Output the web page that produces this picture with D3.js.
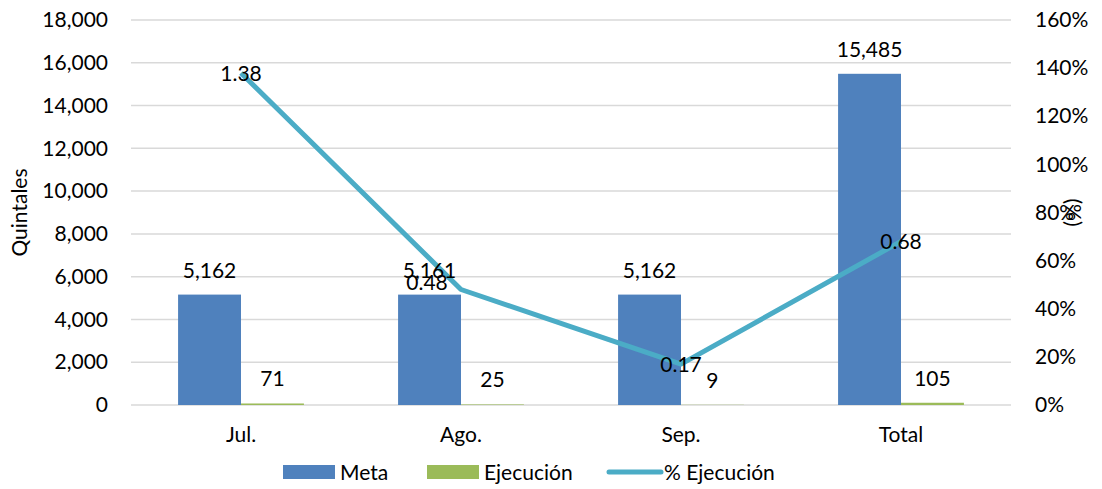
<!DOCTYPE html>
<html lang="es">
<head>
<meta charset="utf-8">
<title>Meta vs Ejecución</title>
<style>
  body { margin: 0; background: #fff; }
  svg text { font-family: Lato, "Open Sans", sans-serif; font-size: 21px; fill: #000; }
  .grid line { stroke: #d9d9d9; stroke-width: 1.5px; }
  .axis path, .axis line { display: none; }
</style>
</head>
<body>
<script src="https://cdnjs.cloudflare.com/ajax/libs/d3/7.8.5/d3.min.js"></script>
<script>
var categories = ["Jul.", "Ago.", "Sep.", "Total"];
var meta = [5162, 5161, 5162, 15485];
var ejecucion = [71, 25, 9, 105];
var pctEjecucion = [1.38, 0.48, 0.17, 0.68];
var leftTicks = [0, 2000, 4000, 6000, 8000, 10000, 12000, 14000, 16000, 18000];
var rightTicks = [0, 0.2, 0.4, 0.6, 0.8, 1.0, 1.2, 1.4, 1.6];

var W = 1102, H = 489;
var margin = { top: 20, right: 91, bottom: 84, left: 131 };
var width = W - margin.left - margin.right;
var height = H - margin.top - margin.bottom;

var svg = d3.select("body").append("svg")
  .attr("width", W).attr("height", H);
var g = svg.append("g")
  .attr("transform", "translate(" + margin.left + "," + margin.top + ")");

var x = d3.scaleBand().domain(categories).range([0, width]);
var y = d3.scaleLinear().domain([0, 18000]).range([height, 0]);
var y2 = d3.scaleLinear().domain([0, 1.6]).range([height, 0]);
var barW = x.bandwidth() * 0.286;

// gridlines
g.append("g").attr("class", "grid")
  .selectAll("line").data(leftTicks).enter().append("line")
  .attr("x1", 0).attr("x2", width)
  .attr("y1", function(d) { return y(d); })
  .attr("y2", function(d) { return y(d); });

// axes
var fmt = d3.format(",");
g.append("g").attr("class", "axis")
  .call(d3.axisLeft(y).tickValues(leftTicks).tickFormat(fmt).tickSize(0).tickPadding(23));
g.append("g").attr("class", "axis")
  .attr("transform", "translate(" + width + ",0)")
  .call(d3.axisRight(y2).tickValues(rightTicks).tickFormat(d3.format(".0%")).tickSize(0).tickPadding(24));
g.append("g").attr("class", "axis")
  .attr("transform", "translate(0," + height + ")")
  .call(d3.axisBottom(x).tickSize(0).tickPadding(22));
g.selectAll(".axis text").style("font-size", "21px").style("font-family", "Lato, 'Open Sans', sans-serif");
g.selectAll(".axis").filter(function(d, i) { return i === 1; })
  .selectAll("text").attr("text-anchor", "start");

// bars
var cx = function(i) { return x(categories[i]) + x.bandwidth() / 2; };
g.selectAll("rect.meta").data(meta).enter().append("rect")
  .attr("class", "meta")
  .attr("x", function(d, i) { return cx(i) - barW; })
  .attr("y", function(d) { return y(d); })
  .attr("width", barW)
  .attr("height", function(d) { return height - y(d); })
  .attr("fill", "#4f81bd");
g.selectAll("rect.ejec").data(ejecucion).enter().append("rect")
  .attr("class", "ejec")
  .attr("x", function(d, i) { return cx(i); })
  .attr("y", function(d) { return y(d); })
  .attr("width", barW)
  .attr("height", function(d) { return height - y(d); })
  .attr("fill", "#9bbb59");

// line
var line = d3.line()
  .x(function(d, i) { return cx(i); })
  .y(function(d) { return y2(d); });
g.append("path").datum(pctEjecucion)
  .attr("d", line)
  .attr("fill", "none")
  .attr("stroke", "#4bacc6")
  .attr("stroke-width", 5)
  .attr("stroke-linejoin", "round");

// bar labels
g.selectAll("text.lm").data(meta).enter().append("text")
  .attr("x", function(d, i) { return cx(i) - barW / 2; })
  .attr("y", function(d) { return y(d) - 17; })
  .attr("text-anchor", "middle")
  .text(function(d) { return fmt(d); });
g.selectAll("text.le").data(ejecucion).enter().append("text")
  .attr("x", function(d, i) { return cx(i) + barW / 2; })
  .attr("y", function(d) { return y(d) - 17; })
  .attr("text-anchor", "middle")
  .text(function(d) { return fmt(d); });

// line labels (Ago. one is nudged left/up in the original)
g.selectAll("text.lp").data(pctEjecucion).enter().append("text")
  .attr("x", function(d, i) { return cx(i) + (i === 1 ? -34 : 0); })
  .attr("y", function(d, i) { return y2(d) + 8 + (i === 1 ? -8 : 0); })
  .attr("text-anchor", "middle")
  .text(function(d) { return d.toFixed(2); });

// axis titles
svg.append("text")
  .attr("transform", "translate(27," + (margin.top + height / 2) + ") rotate(-90)")
  .attr("text-anchor", "middle")
  .text("Quintales");
svg.append("text")
  .attr("transform", "translate(1066," + (margin.top + height / 2) + ") rotate(90)")
  .attr("text-anchor", "middle")
  .text("(%)");

// legend
var legend = svg.append("g").attr("transform", "translate(0,472)");
var items = [
  { name: "Meta", color: "#4f81bd", type: "rect", x: 283 },
  { name: "Ejecución", color: "#9bbb59", type: "rect", x: 427 },
  { name: "% Ejecución", color: "#4bacc6", type: "line", x: 607 }
];
items.forEach(function(it) {
  if (it.type === "rect") {
    legend.append("rect").attr("x", it.x).attr("y", -7).attr("width", 52).attr("height", 14).attr("fill", it.color);
  } else {
    legend.append("line").attr("x1", it.x + 2).attr("x2", it.x + 54).attr("y1", 0).attr("y2", 0)
      .attr("stroke", it.color).attr("stroke-width", 5).attr("stroke-linecap", "round");
  }
  legend.append("text").attr("x", it.x + 57).attr("y", 8).text(it.name);
});
</script>
</body>
</html>
